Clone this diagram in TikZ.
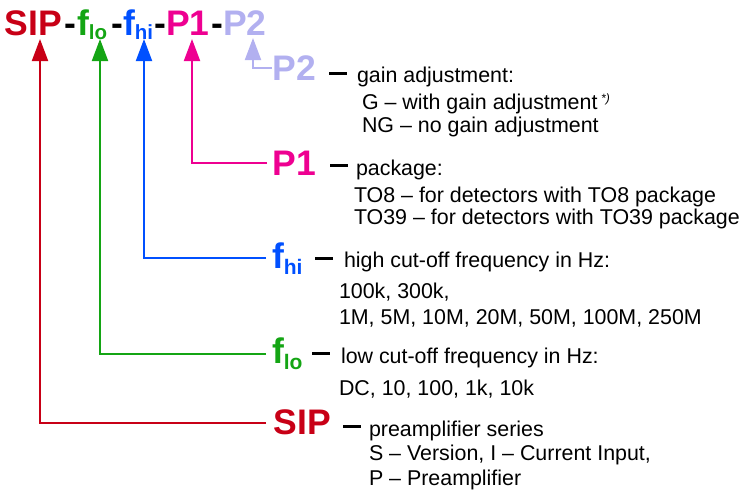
\documentclass[tikz,border=0pt]{standalone}
\usepackage{fontspec}
\setmainfont{Liberation Sans}
\usetikzlibrary{arrows.meta}
\definecolor{sipred}{RGB}{200,0,22}
\definecolor{logreen}{RGB}{20,165,20}
\definecolor{hiblue}{RGB}{0,80,255}
\definecolor{pmag}{RGB}{238,0,145}
\definecolor{plav}{RGB}{178,176,240}
\newcommand{\tsub}[1]{\raisebox{-3.5pt}{\fontsize{20.5}{20.5}\selectfont #1}}
\newcommand{\lsub}[1]{\raisebox{-6pt}{\fontsize{21}{21}\selectfont #1}}
\begin{document}
\begin{tikzpicture}[x=1pt,y=-1pt,
  txt/.style={anchor=base west,inner sep=0pt,outer sep=0pt},
  ttl/.style={txt,font=\fontsize{35.5}{35.5}\selectfont\bfseries},
  lbl/.style={txt,font=\fontsize{35.5}{35.5}\selectfont\bfseries},
  dashbar/.style={anchor=west,fill=black,draw=none,inner sep=0pt,outer sep=0pt,minimum width=18pt,minimum height=3pt},
  desc/.style={txt,font=\fontsize{21.4}{24}\selectfont},
  conn/.style={line width=2pt,-{Triangle[length=22pt,width=16pt]}},
]
\useasboundingbox (0,0) rectangle (741,493);

% title
\node[ttl,sipred] (sipT) at (5,35.5) {SIP};
\node[ttl] (h1) at (64,35.5) {-};
\node[ttl,logreen] (loT) at (77,35.5) {f\tsub{lo}};
\node[ttl] (h2) at (111,35.5) {-};
\node[ttl,hiblue] (hiT) at (123,35.5) {f\tsub{hi}};
\node[ttl] (h3) at (154,35.5) {-};
\node[ttl,pmag] (p1T) at (166,35.5) {P1};
\node[ttl] (h4) at (211,35.5) {-};
\node[ttl,plav] (p2T) at (223,35.5) {P2};

% P2
\node[lbl,plav] (p2L) at (272.5,80) {P2};
\node[dashbar] (p2D) at (329,73) {};
\node[desc] (p2a) at (357,82) {gain adjustment:};
\node[desc] (p2b) at (362,109) {G – with gain adjustment\,\raisebox{7pt}{\fontsize{12}{12}\selectfont\itshape *)}};
\node[desc] (p2c) at (362,132) {NG – no gain adjustment};

% P1
\node[lbl,pmag] (p1L) at (272.5,175) {P1};
\node[dashbar] (p1D) at (330,165) {};
\node[desc] (p1a) at (356,175) {package:};
\node[desc] (p1b) at (354,202) {TO8 – for detectors with TO8 package};
\node[desc] (p1c) at (354,224) {TO39 – for detectors with TO39 package};

% f_hi
\node[lbl,hiblue] (hiL) at (272,268) {f\lsub{hi}};
\node[dashbar] (hiD) at (315,258) {};
\node[desc] (hia) at (344,267) {high cut-off frequency in Hz:};
\node[desc] (hib) at (339,298) {100k, 300k,};
\node[desc] (hic) at (339,324) {1M, 5M, 10M, 20M, 50M, 100M, 250M};

% f_lo
\node[lbl,logreen] (loL) at (272,363) {f\lsub{lo}};
\node[dashbar] (loD) at (312,353) {};
\node[desc] (loa) at (341,363) {low cut-off frequency in Hz:};
\node[desc] (lob) at (339,395) {DC, 10, 100, 1k, 10k};

% SIP
\node[lbl,sipred] (sipL) at (273.5,434) {SIP};
\node[dashbar] (sipD) at (343,426) {};
\node[desc] (sipa) at (369,436) {preamplifier series};
\node[desc] (sipb) at (369,460) {S – Version, I – Current Input,};
\node[desc] (sipc) at (369,485) {P – Preamplifier};

% connector ends
\coordinate (sipE) at (266,423);
\coordinate (sipA) at (40,39);
\coordinate (loE) at (266,354);
\coordinate (loA) at (100,39);
\coordinate (hiE) at (266,258);
\coordinate (hiA) at (144,39);
\coordinate (p1E) at (267,163);
\coordinate (p1A) at (192,39);
\coordinate (p2E) at (272,68);
\coordinate (p2A) at (253,38);

\draw[conn,sipred] (sipE) -| (sipA);
\draw[conn,logreen] (loE) -| (loA);
\draw[conn,hiblue] (hiE) -| (hiA);
\draw[conn,pmag] (p1E) -| (p1A);
\draw[conn,plav] (p2E) -| (p2A);
\end{tikzpicture}
\end{document}
